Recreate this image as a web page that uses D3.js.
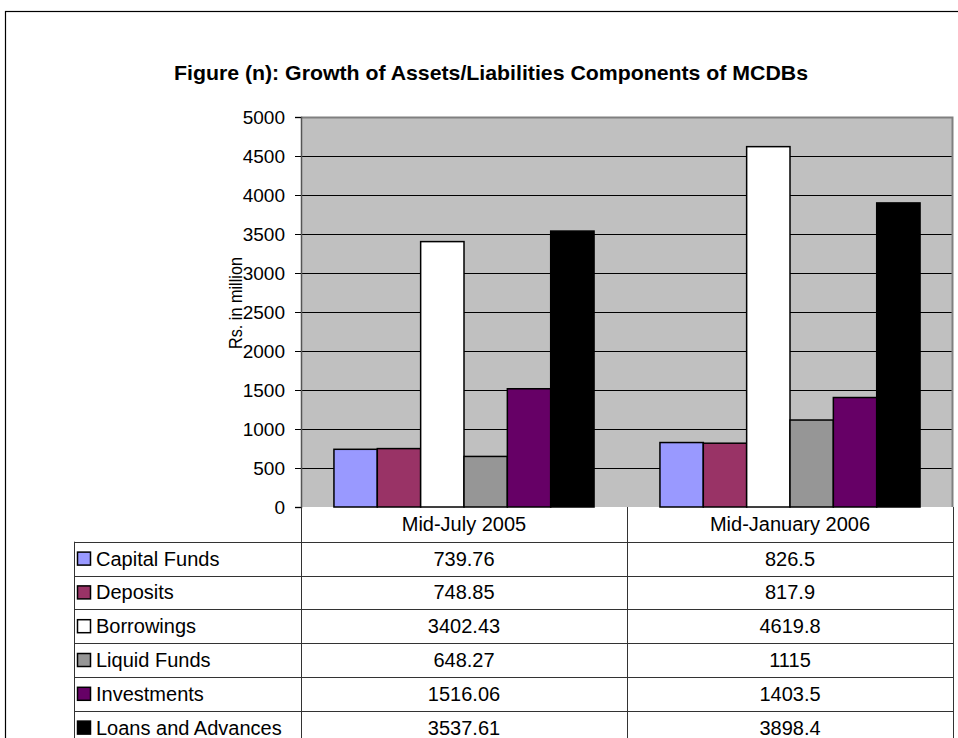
<!DOCTYPE html>
<html>
<head>
<meta charset="utf-8">
<script src="https://cdn.jsdelivr.net/npm/d3@7/dist/d3.min.js"></script>
<style>
  body { margin: 0; background: #fff; }
  text { font-family: "Liberation Sans", Arial, sans-serif; }
</style>
</head>
<body>
<svg id="chart" width="958" height="738"></svg>
<script>
const titleText = "Figure (n): Growth of Assets/Liabilities Components of MCDBs";
const yLabel = "Rs. in million";
const categories = ["Mid-July 2005", "Mid-January 2006"];
const seriesNames = ["Capital Funds", "Deposits", "Borrowings", "Liquid Funds", "Investments", "Loans and Advances"];
const seriesColors = ["#9999FF", "#993366", "#FFFFFF", "#969696", "#660066", "#000000"];
const capitalFunds = [739.76, 826.5];
const deposits = [748.85, 817.9];
const borrowings = [3402.43, 4619.8];
const liquidFunds = [648.27, 1115];
const investments = [1516.06, 1403.5];
const loansAdvances = [3537.61, 3898.4];
const valueLabels = [
  ["739.76", "826.5"],
  ["748.85", "817.9"],
  ["3402.43", "4619.8"],
  ["648.27", "1115"],
  ["1516.06", "1403.5"],
  ["3537.61", "3898.4"]
];
const yTicks = [0, 500, 1000, 1500, 2000, 2500, 3000, 3500, 4000, 4500, 5000];

const seriesValues = [capitalFunds, deposits, borrowings, liquidFunds, investments, loansAdvances];

const svg = d3.select("#chart");
const plotL = 301, plotR = 953, plotT = 117, plotB = 507;

// outer frame
svg.append("rect").attr("x", 5.5).attr("y", 11.5).attr("width", 960).attr("height", 760)
  .attr("fill", "none").attr("stroke", "#000").attr("stroke-width", 1.2);

// title
svg.append("text").attr("x", 491).attr("y", 80).attr("text-anchor", "middle")
  .attr("font-size", 21).attr("font-weight", "bold")
  .attr("textLength", 634).attr("lengthAdjust", "spacingAndGlyphs").text(titleText);

const x0 = d3.scaleBand().domain(categories).range([plotL, plotR]);
const x1 = d3.scaleBand().domain(seriesNames).range([0, x0.bandwidth()]).paddingInner(0).paddingOuter(0.76);
const y = d3.scaleLinear().domain([0, 5000]).range([plotB, plotT]);

// plot background
svg.append("rect").attr("x", plotL).attr("y", plotT).attr("width", plotR - plotL).attr("height", plotB - plotT)
  .attr("fill", "#C0C0C0");

// gridlines
svg.append("g").selectAll("line").data(yTicks.filter(d => d > 0 && d < 5000)).join("line")
  .attr("x1", plotL).attr("x2", plotR)
  .attr("y1", d => Math.round(y(d)) + 0.5).attr("y2", d => Math.round(y(d)) + 0.5)
  .attr("stroke", "#000").attr("stroke-width", 1);

// plot border top/right
svg.append("path")
  .attr("d", `M${plotL},${plotT + 0.5}H${plotR - 0.5}V${plotB}`)
  .attr("fill", "none").attr("stroke", "#808080").attr("stroke-width", 2);

// bars
const groups = svg.append("g").selectAll("g").data(categories).join("g")
  .attr("transform", d => `translate(${x0(d)},0)`);
groups.selectAll("rect").data((c, ci) => seriesNames.map((s, si) => ({ s, si, v: seriesValues[si][ci] }))).join("rect")
  .attr("x", d => x1(d.s)).attr("width", x1.bandwidth())
  .attr("y", d => y(d.v)).attr("height", d => y(0) - y(d.v))
  .attr("fill", d => seriesColors[d.si]).attr("stroke", "#000").attr("stroke-width", 1.5);

// y axis
const yAxis = d3.axisLeft(y).tickValues(yTicks).tickSize(6).tickPadding(10).tickFormat(d3.format("d"));
const ya = svg.append("g").attr("transform", `translate(${plotL},0)`).call(yAxis);
ya.select(".domain").attr("stroke", "#555").attr("stroke-width", 1.5);
ya.selectAll(".tick line").attr("stroke", "#000");
ya.selectAll(".tick text").attr("font-size", 19).attr("fill", "#000")
  .attr("font-family", '"Liberation Sans", Arial, sans-serif');

// y label
svg.append("text").attr("transform", "translate(242,303) rotate(-90)")
  .attr("text-anchor", "middle").attr("font-size", 19)
  .attr("textLength", 92).attr("lengthAdjust", "spacingAndGlyphs").text(yLabel);

// data table
const headerTop = plotB, headerBot = 541.7, rowH = 33.8;
const tableL = 74;
const tbl = svg.append("g").attr("stroke", "#333").attr("stroke-width", 1);
const tableBottom = headerBot + rowH * seriesNames.length;
[plotL, x0(categories[1]), plotR].forEach(xv => {
  tbl.append("line").attr("x1", xv + 0.5).attr("x2", xv + 0.5).attr("y1", headerTop).attr("y2", tableBottom);
});
tbl.append("line").attr("x1", tableL + 0.5).attr("x2", tableL + 0.5).attr("y1", headerBot).attr("y2", tableBottom);
d3.range(seriesNames.length + 1).forEach(i => {
  const yy = Math.round(headerBot + i * rowH) + 0.5;
  tbl.append("line").attr("x1", tableL).attr("x2", plotR + 1).attr("y1", yy).attr("y2", yy);
});

// header labels
svg.append("g").selectAll("text").data(categories).join("text")
  .attr("x", d => x0(d) + x0.bandwidth() / 2).attr("y", (headerTop + headerBot) / 2)
  .attr("dy", "0.35em").attr("text-anchor", "middle").attr("font-size", 20).text(d => d);

// rows
seriesNames.forEach((s, si) => {
  const cy = headerBot + si * rowH + rowH / 2;
  svg.append("rect").attr("x", 77.5).attr("y", cy - 6.5).attr("width", 13).attr("height", 13)
    .attr("fill", seriesColors[si]).attr("stroke", "#000").attr("stroke-width", 1.5);
  svg.append("text").attr("x", 96).attr("y", cy).attr("dy", "0.35em").attr("font-size", 20).text(s);
  categories.forEach((c, ci) => {
    svg.append("text").attr("x", x0(c) + x0.bandwidth() / 2).attr("y", cy).attr("dy", "0.35em")
      .attr("text-anchor", "middle").attr("font-size", 20).text(valueLabels[si][ci]);
  });
});
</script>
</body>
</html>
